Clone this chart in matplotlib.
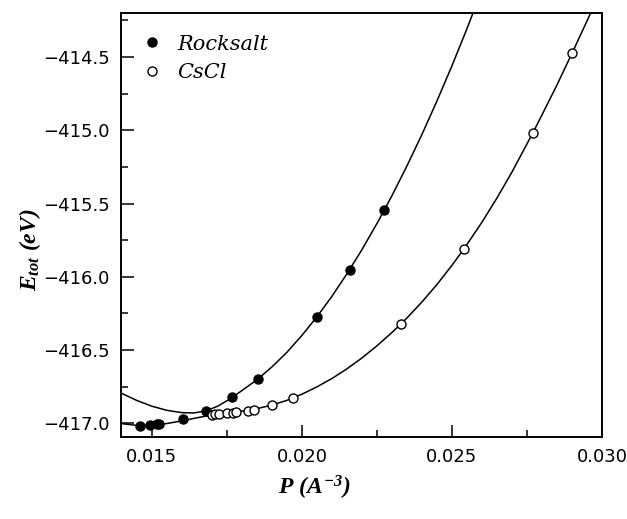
import matplotlib
matplotlib.use("Agg")
import matplotlib.pyplot as plt
from matplotlib.ticker import MultipleLocator, FuncFormatter

# marker data
rock_p = [0.01459, 0.01494, 0.01517, 0.01525, 0.01603, 0.01681, 0.01767,
          0.01855, 0.0205, 0.0216, 0.02275]
rock_e = [-417.016, -417.010, -417.005, -417.003, -416.973, -416.918, -416.820,
          -416.698, -416.273, -415.954, -415.545]

cscl_p = [0.0170, 0.0171, 0.01725, 0.0175, 0.0177, 0.0178, 0.0182, 0.0184,
          0.0190, 0.0197, 0.0233, 0.0254, 0.0277, 0.0290]
cscl_e = [-416.940, -416.938, -416.935, -416.931, -416.927, -416.924, -416.915,
          -416.908, -416.876, -416.826, -416.323, -415.810, -415.017, -414.476]

# fitted curves
rock_fit_p = [0.0140, 0.0145, 0.0150, 0.0155, 0.0160, 0.0164, 0.0168, 0.0172,
              0.0176, 0.0180, 0.0185, 0.0190, 0.0195, 0.0200, 0.0205, 0.0210,
              0.0215, 0.0220, 0.0225, 0.0230, 0.0235, 0.0240, 0.0245, 0.0250,
              0.0255, 0.0260]
rock_fit_e = [-416.796, -416.844, -416.883, -416.911, -416.927, -416.929,
              -416.915, -416.882, -416.834, -416.776, -416.703, -416.615,
              -416.515, -416.400, -416.273, -416.133, -415.980, -415.815,
              -415.637, -415.447, -415.244, -415.029, -414.801, -414.561,
              -414.308, -414.043]

cscl_fit_p = [0.0140, 0.0145, 0.0150, 0.0155, 0.0160, 0.0165, 0.0170, 0.0175,
              0.0180, 0.0185, 0.0190, 0.0195, 0.0197, 0.0200, 0.0205, 0.0210,
              0.0215, 0.0220, 0.0225, 0.0230, 0.0233, 0.0235, 0.0240, 0.0245,
              0.0250, 0.0254, 0.0260, 0.0265, 0.0270, 0.0277, 0.0280, 0.0285,
              0.0290, 0.0295, 0.0300]
cscl_fit_e = [-417.002, -417.014, -417.012, -417.001, -416.983, -416.962,
              -416.943, -416.930, -416.917, -416.900, -416.875, -416.843,
              -416.826, -416.801, -416.751, -416.694, -416.628, -416.554,
              -416.471, -416.380, -416.322, -416.281, -416.172, -416.053,
              -415.922, -415.810, -415.628, -415.463, -415.286, -415.017,
              -414.896, -414.692, -414.476, -414.256, -414.030]

plt.rcParams['mathtext.fontset'] = 'custom'
plt.rcParams['mathtext.rm'] = 'Liberation Serif:italic:bold'
plt.rcParams['mathtext.it'] = 'Liberation Serif:italic:bold'

fig = plt.figure(figsize=(6.27, 5.19), dpi=100)
ax = fig.add_axes([0.193, 0.158, 0.767, 0.817])

ax.plot(rock_fit_p, rock_fit_e, color='black', lw=1.1, zorder=2)
ax.plot(cscl_fit_p, cscl_fit_e, color='black', lw=1.1, zorder=2)
ax.plot(rock_p, rock_e, 'o', color='black', ms=6.5, label='Rocksalt', zorder=3)
ax.plot(cscl_p, cscl_e, 'o', mfc='white', mec='black', mew=1.0, ms=6.5,
        label='CsCl', zorder=3)

ax.set_xlim(0.01397, 0.030)
ax.set_ylim(-417.093, -414.2)

ax.xaxis.set_major_locator(MultipleLocator(0.005))
ax.xaxis.set_minor_locator(MultipleLocator(0.0025))
ax.yaxis.set_major_locator(MultipleLocator(0.5))
ax.yaxis.set_minor_locator(MultipleLocator(0.25))
ax.xaxis.set_major_formatter(FuncFormatter(lambda v, p: f"{v:.3f}"))
ax.yaxis.set_major_formatter(
    FuncFormatter(lambda v, p: f"{v:.1f}".replace('-', '\u2212')))

ax.tick_params(which='both', direction='in', top=False, right=False, width=1.1)
ax.tick_params(which='major', length=9, labelsize=13, pad=8)
ax.tick_params(which='minor', length=5)
for s in ax.spines.values():
    s.set_linewidth(1.4)

ax.set_xlabel(r'$P\ (A^{-3})$', fontsize=17)
ax.set_ylabel(r'$E_{tot}\ (eV)$', fontsize=17)
ax.xaxis.set_label_coords(0.403, -0.088)
ax.yaxis.set_label_coords(-0.162, 0.441)

ax.legend(loc='upper left', bbox_to_anchor=(0.0, 0.993), frameon=False,
          handlelength=1.2, handletextpad=0.6, labelspacing=0.45,
          prop={'family': 'DejaVu Serif', 'style': 'italic', 'size': 15})

fig.savefig('out.png', dpi=100)
